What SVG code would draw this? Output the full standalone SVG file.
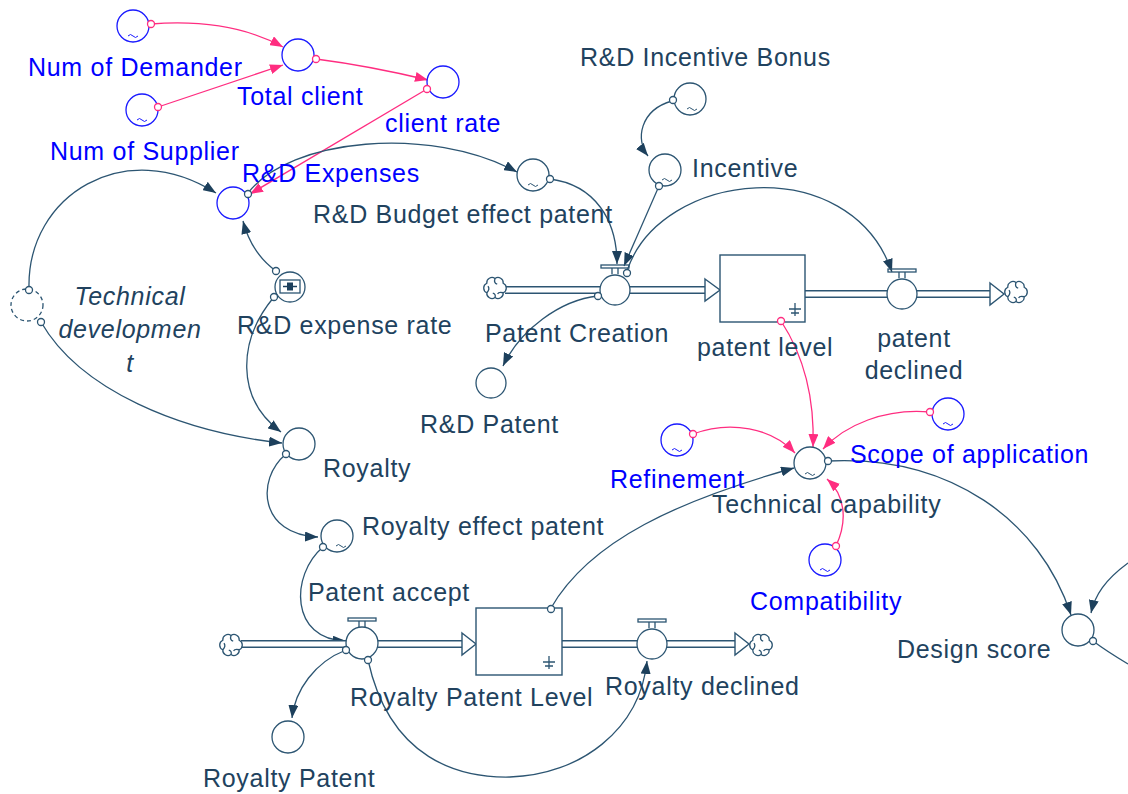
<svg xmlns="http://www.w3.org/2000/svg" xmlns:xlink="http://www.w3.org/1999/xlink" width="1128" height="794" viewBox="0 0 1128 794">
  <style>
    .lbl { font-family: "Liberation Sans", Arial, sans-serif; font-size: 25px; letter-spacing: 0.7px; fill: #21425e; }
    .blbl { font-family: "Liberation Sans", Arial, sans-serif; font-size: 25px; letter-spacing: 0.7px; fill: #0000ff; }
    .ital { font-style: italic; }
    .node { fill: #ffffff; stroke: #2c5572; stroke-width: 1.3; }
    .bnode { fill: #ffffff; stroke: #1a1aff; stroke-width: 1.3; }
    .ghost { fill: none; stroke: #2c5572; stroke-width: 1.3; stroke-dasharray: 4 3; }
    .link { fill: none; stroke: #2c5572; stroke-width: 1.3; marker-end: url(#ahDark); }
    .plink { fill: none; stroke: #ff2d80; stroke-width: 1.3; marker-end: url(#ahPink); }
    .orig { fill: #ffffff; stroke: #2c5572; stroke-width: 1.3; }
    .porig { fill: #ffffff; stroke: #ff2d80; stroke-width: 1.3; }
    .tilde { fill: none; stroke: #2c5572; stroke-width: 1; }
    .btilde { fill: none; stroke: #1a1aff; stroke-width: 1; }
    .pipeO { fill: none; stroke: #2c5572; stroke-width: 8; }
    .pipeI { fill: none; stroke: #ffffff; stroke-width: 5; }
    .head { fill: #ffffff; stroke: #2c5572; stroke-width: 1.4; }
    .stock { fill: #ffffff; stroke: #2c5572; stroke-width: 1.4; }
    .cloud { fill: #ffffff; stroke: #2c5572; stroke-width: 1.3; }
    .sym { fill: none; stroke: #2c5572; stroke-width: 1.3; }
  </style>
  <defs>
    <marker id="ahDark" viewBox="0 0 13 10" refX="13" refY="5" markerWidth="13" markerHeight="10" orient="auto" markerUnits="userSpaceOnUse">
      <path d="M0,0 L13,5 L0,10 z" fill="#1d405c"/>
    </marker>
    <marker id="ahPink" viewBox="0 0 13 10" refX="13" refY="5" markerWidth="13" markerHeight="10" orient="auto" markerUnits="userSpaceOnUse">
      <path d="M0,0 L13,5 L0,10 z" fill="#ff2d80"/>
    </marker>
    <!-- source / sink cloud, about 26px across -->
    <g id="cloud">
      <path class="cloud" d="M0,-9.5 A5.2,5.2 0 0 1 8.2,-4.75 A5.2,5.2 0 0 1 8.2,4.75 A5.2,5.2 0 0 1 0,9.5 A5.2,5.2 0 0 1 -8.2,4.75 A5.2,5.2 0 0 1 -8.2,-4.75 A5.2,5.2 0 0 1 0,-9.5 Z"/>
      <path class="sym" d="M0,-9.5 q-1.5,4.5 2.2,5.6 M8.2,4.75 q-4.5,-1.2 -5.6,1.2 M-8.2,4.75 q3.4,-3.4 1.2,-6.6 M0,9.5 q1.2,-3.4 -2.2,-4.4"/>
    </g>
    <g id="valveTop">
      <rect class="sym" x="-14" y="-25" width="28" height="3" fill="#ffffff"/>
      <path class="sym" d="M-3,-22 V-16 M3,-22 V-16"/>
    </g>
    <g id="ground">
      <path class="sym" d="M0,-7 V6 M-6,-1 H6 M-4,3 H4"/>
    </g>
    <path id="tl" d="M-5,0 q2.5,-3 5,0 t5,0"/>
  </defs>

  <!-- connectors -->
  <g id="connectors">
    <!-- pink information links -->
    <path class="plink" d="M151,24 Q230,18 283,47"/>
    <path class="plink" d="M158,107 L283,65"/>
    <path class="plink" d="M316,59 Q370,66 428,80"/>
    <path class="plink" d="M427,89 L250,194"/>
    <path class="plink" d="M781,321 C800,350 815,390 813,447"/>
    <path class="plink" d="M693,434 C730,420 772,428 795,453"/>
    <path class="plink" d="M930,412 C885,408 845,425 823,449"/>
    <path class="plink" d="M836,546 C848,520 845,495 827,479"/>

    <!-- dark links -->
    <path class="link" d="M29,288 C27,195 125,135 216,193"/>
    <path class="link" d="M41,322 C80,390 180,432 282,443"/>
    <path class="link" d="M276,271 C258,258 248,240 243,221"/>
    <path class="link" d="M274,297 C238,340 235,398 281,432"/>
    <path class="link" d="M248,193 C290,138 430,125 517,172"/>
    <path class="link" d="M550,179 C595,185 617,220 617,264"/>
    <path class="link" d="M672,101 C640,110 635,140 648,156"/>
    <path class="link" d="M659,186 L624,266"/>
    <path class="link" d="M627,271 C660,170 850,150 892,272"/>
    <path class="link" d="M598,296 C560,300 520,330 503,366"/>
    <path class="link" d="M286,454 C255,480 260,535 318,537"/>
    <path class="link" d="M323,547 C290,575 290,640 346,641"/>
    <path class="link" d="M346,650 C315,662 295,690 292,718"/>
    <path class="link" d="M368,660 C390,760 460,778 510,777 C580,775 640,730 647,661"/>
    <path class="link" d="M551,608 C590,540 680,500 794,468"/>
    <path class="link" d="M828,461 C950,455 1040,520 1071,615"/>
    <path class="link" d="M1128,563 C1105,580 1095,595 1091,613"/>
    <path class="sym" d="M1093,641 C1105,650 1118,658 1128,664"/>

    <!-- material flows -->
    <path class="pipeO" d="M505,290 H706"/>
    <path class="pipeI" d="M504,290 H707"/>
    <path class="head" d="M705,279 L720,290 L705,301 Z"/>
    <path class="pipeO" d="M805,294 H991"/>
    <path class="pipeI" d="M805,294 H992"/>
    <path class="head" d="M990,283 L1004,294 L990,305 Z"/>
    <path class="pipeO" d="M241,644 H463"/>
    <path class="pipeI" d="M240,644 H464"/>
    <path class="head" d="M462,633 L476,644 L462,655 Z"/>
    <path class="pipeO" d="M562,644 H736"/>
    <path class="pipeI" d="M562,644 H737"/>
    <path class="head" d="M735,633 L749,644 L735,655 Z"/>
  </g>

  <!-- clouds -->
  <use xlink:href="#cloud" x="495" y="288"/>
  <use xlink:href="#cloud" x="1016" y="292"/>
  <use xlink:href="#cloud" x="231" y="645"/>
  <use xlink:href="#cloud" x="761" y="645"/>

  <!-- nodes -->
  <g id="num-of-demander">
    <circle class="bnode" cx="133" cy="26" r="16"/>
    <use xlink:href="#tl" x="133" y="36" class="btilde"/>
    <circle class="porig" cx="151" cy="24" r="3.5"/>
    <text class="blbl" x="28" y="76">Num of Demander</text>
  </g>
  <g id="total-client">
    <circle class="bnode" cx="298" cy="55" r="16"/>
    <circle class="porig" cx="316" cy="59" r="3.5"/>
    <text class="blbl" x="237" y="105">Total client</text>
  </g>
  <g id="num-of-supplier">
    <circle class="bnode" cx="142" cy="110" r="16"/>
    <use xlink:href="#tl" x="142" y="120" class="btilde"/>
    <circle class="porig" cx="158" cy="107" r="3.5"/>
    <text class="blbl" x="50" y="160">Num of Supplier</text>
  </g>
  <g id="client-rate">
    <circle class="bnode" cx="443" cy="82" r="16"/>
    <circle class="porig" cx="427" cy="89" r="3.5"/>
    <text class="blbl" x="385" y="132">client rate</text>
  </g>
  <g id="rd-expenses">
    <circle class="bnode" cx="233" cy="203" r="16"/>
    <circle class="orig" cx="248" cy="194" r="3.5"/>
    <text class="blbl" x="242" y="182">R&amp;D Expenses</text>
  </g>
  <g id="technical-development">
    <circle class="ghost" cx="27" cy="305" r="16"/>
    <circle class="orig" cx="29" cy="290" r="3.5"/>
    <circle class="orig" cx="41" cy="322" r="3.5"/>
    <text class="lbl ital" x="130" y="305" text-anchor="middle">Technical</text>
    <text class="lbl ital" x="130" y="338" text-anchor="middle">developmen</text>
    <text class="lbl ital" x="130" y="372" text-anchor="middle">t</text>
  </g>
  <g id="rd-expense-rate">
    <circle class="node" cx="290" cy="287" r="15"/>
    <rect class="sym" x="280" y="280" width="20" height="13" stroke-width="1.6"/>
    <path d="M283,286.5 H297" stroke="#1d405c" stroke-width="1.5"/>
    <rect x="287" y="282.5" width="6" height="8" fill="#1d405c"/>
    <circle class="orig" cx="276" cy="271" r="3.5"/>
    <circle class="orig" cx="274" cy="297" r="3.5"/>
    <text class="lbl" x="237" y="334">R&amp;D expense rate</text>
  </g>
  <g id="rd-budget-effect-patent">
    <circle class="node" cx="533" cy="175" r="16"/>
    <use xlink:href="#tl" x="533" y="185" class="tilde"/>
    <circle class="orig" cx="550" cy="179" r="3.5"/>
    <text class="lbl" x="313" y="223">R&amp;D Budget effect patent</text>
  </g>
  <g id="rd-incentive-bonus">
    <circle class="node" cx="690" cy="99" r="16"/>
    <use xlink:href="#tl" x="692" y="109" class="tilde"/>
    <circle class="orig" cx="673" cy="100" r="3.5"/>
    <text class="lbl" x="580" y="66">R&amp;D Incentive Bonus</text>
  </g>
  <g id="incentive">
    <circle class="node" cx="665" cy="170" r="16"/>
    <use xlink:href="#tl" x="667" y="180" class="tilde"/>
    <circle class="orig" cx="659" cy="186" r="3.5"/>
    <text class="lbl" x="692" y="177">Incentive</text>
  </g>
  <g id="patent-creation">
    <use xlink:href="#valveTop" x="615" y="290"/>
    <circle class="node" cx="615" cy="290" r="15"/>
    <circle class="orig" cx="598" cy="296" r="3.5"/>
    <circle class="orig" cx="627" cy="273" r="3.5"/>
    <text class="lbl" x="485" y="342">Patent Creation</text>
  </g>
  <g id="patent-level">
    <rect class="stock" x="720" y="255" width="85" height="67"/>
    <use xlink:href="#ground" x="795" y="310"/>
    <circle class="porig" cx="781" cy="321" r="3.5"/>
    <text class="lbl" x="697" y="356">patent level</text>
  </g>
  <g id="patent-declined">
    <use xlink:href="#valveTop" x="902" y="294"/>
    <circle class="node" cx="902" cy="294" r="15"/>
    <text class="lbl" x="914" y="347" text-anchor="middle">patent</text>
    <text class="lbl" x="914" y="379" text-anchor="middle">declined</text>
  </g>
  <g id="rd-patent">
    <circle class="node" cx="491" cy="383" r="15"/>
    <text class="lbl" x="420" y="433">R&amp;D Patent</text>
  </g>
  <g id="royalty">
    <circle class="node" cx="299" cy="444" r="16"/>
    <circle class="orig" cx="286" cy="454" r="3.5"/>
    <text class="lbl" x="323" y="477">Royalty</text>
  </g>
  <g id="royalty-effect-patent">
    <circle class="node" cx="337" cy="536" r="16"/>
    <use xlink:href="#tl" x="341" y="546" class="tilde"/>
    <circle class="orig" cx="323" cy="547" r="3.5"/>
    <text class="lbl" x="362" y="535">Royalty effect patent</text>
  </g>
  <g id="patent-accept">
    <use xlink:href="#valveTop" x="362" y="643"/>
    <circle class="node" cx="362" cy="643" r="16"/>
    <circle class="orig" cx="346" cy="650" r="3.5"/>
    <circle class="orig" cx="368" cy="660" r="3.5"/>
    <text class="lbl" x="308" y="601">Patent accept</text>
  </g>
  <g id="royalty-patent-level">
    <rect class="stock" x="476" y="608" width="86" height="67"/>
    <use xlink:href="#ground" x="549" y="663"/>
    <circle class="orig" cx="551" cy="609" r="3.5"/>
    <text class="lbl" x="350" y="706">Royalty Patent Level</text>
  </g>
  <g id="royalty-declined">
    <use xlink:href="#valveTop" x="652" y="644"/>
    <circle class="node" cx="652" cy="644" r="15"/>
    <text class="lbl" x="605" y="695">Royalty declined</text>
  </g>
  <g id="royalty-patent">
    <circle class="node" cx="288" cy="737" r="16"/>
    <text class="lbl" x="203" y="787">Royalty Patent</text>
  </g>
  <g id="technical-capability">
    <circle class="node" cx="810" cy="463" r="16"/>
    <use xlink:href="#tl" x="810" y="474" class="tilde"/>
    <circle class="orig" cx="828" cy="461" r="3.5"/>
    <text class="lbl" x="712" y="513">Technical capability</text>
  </g>
  <g id="refinement">
    <circle class="bnode" cx="677" cy="440" r="16"/>
    <use xlink:href="#tl" x="677" y="450" class="btilde"/>
    <circle class="porig" cx="693" cy="434" r="3.5"/>
    <text class="blbl" x="610" y="488">Refinement</text>
  </g>
  <g id="scope-of-application">
    <circle class="bnode" cx="948" cy="414" r="16"/>
    <use xlink:href="#tl" x="948" y="424" class="btilde"/>
    <circle class="porig" cx="930" cy="412" r="3.5"/>
    <text class="blbl" x="850" y="463">Scope of application</text>
  </g>
  <g id="compatibility">
    <circle class="bnode" cx="825" cy="560" r="16"/>
    <use xlink:href="#tl" x="825" y="570" class="btilde"/>
    <circle class="porig" cx="836" cy="546" r="3.5"/>
    <text class="blbl" x="750" y="610">Compatibility</text>
  </g>
  <g id="design-score">
    <circle class="node" cx="1078" cy="630" r="16"/>
    <circle class="orig" cx="1093" cy="641" r="3.5"/>
    <text class="lbl" x="897" y="658">Design score</text>
  </g>
</svg>
